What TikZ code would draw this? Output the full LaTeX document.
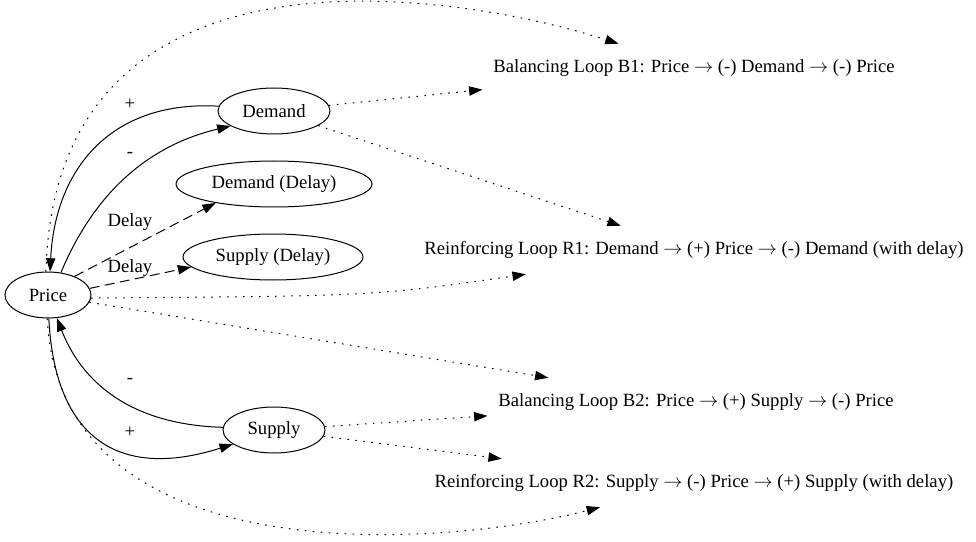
\documentclass[tikz,border=0pt]{standalone}
\usepackage{fontspec}
\setmainfont{Liberation Serif}
\usetikzlibrary{shapes.geometric,arrows.meta}
\newcommand{\myarrow}{\ensuremath{\rightarrow}}
\begin{document}
\begin{tikzpicture}[x=0.75pt,y=-0.75pt,
  every node/.style={font=\fontsize{14pt}{16pt}\selectfont},
  var/.style={draw, ellipse, line width=0.75pt, inner sep=0pt, minimum height=34.5pt},
  loopnode/.style={rectangle, inner xsep=8pt, inner ysep=0pt, minimum height=36pt},
  lbl/.style={inner sep=1pt},
  link/.style={line width=0.75pt, -{Triangle[length=10pt,width=7pt]}},
  dashlink/.style={link, dash pattern=on 7.5pt off 4pt},
  dotlink/.style={link, dash pattern=on 1.2pt off 4.8pt}]
\useasboundingbox (0,0) rectangle (976,542);

\node[var, minimum width=64.5pt] (price) at (48,295) {Price};
\node[var, minimum width=84pt] (demand) at (274,111) {Demand};
\node[var, minimum width=147pt] (dd) at (274,184) {Demand (Delay)};
\node[var, minimum width=135pt] (sd) at (273,257) {Supply (Delay)};
\node[var, minimum width=76.5pt] (supply) at (274,430) {Supply};

\node[loopnode] (b1) at (694,68) {Balancing Loop B1: Price \myarrow{} (-) Demand \myarrow{} (-) Price};
\node[loopnode] (r1) at (694,250) {Reinforcing Loop R1: Demand \myarrow{} (+) Price \myarrow{} (-) Demand (with delay)};
\node[loopnode] (b2) at (696,402) {Balancing Loop B2: Price \myarrow{} (+) Supply \myarrow{} (-) Price};
\node[loopnode] (r2) at (694,483) {Reinforcing Loop R2: Supply \myarrow{} (-) Price \myarrow{} (+) Supply (with delay)};

% causal links
\draw[link] (demand.175) .. controls (110,100) and (55,170) .. (price.85);
\draw[link] (price.60) .. controls (85,215) and (130,150) .. (demand.199);
\draw[dashlink] (price.35) -- (dd.198);
\draw[dashlink] (price.9) -- (sd.187);
\draw[link] (supply.177) .. controls (140,425) and (85,390) .. (price.291);
\draw[link] (price.272) .. controls (55,440) and (120,480) .. (supply.199);

% loop links
\draw[dotlink] (price.95) .. controls (55,-80) and (470,-4) .. (b1);
\draw[dotlink] (demand) -- (b1);
\draw[dotlink] (demand) -- (r1);
\draw[dotlink] (price.-4) .. controls (375,296) .. (r1);
\draw[dotlink] (price.-10) -- (b2);
\draw[dotlink] (supply) -- (b2);
\draw[dotlink] (supply) -- (r2);
\draw[dotlink] (price.268) .. controls (60,580) and (450,546) .. (r2);

% labels
\node[lbl] (lp1) at (130,104) {+};
\node[lbl] (lm1) at (130,155) {-};
\node[lbl] (ld1) at (130,222) {Delay};
\node[lbl] (ld2) at (130,268) {Delay};
\node[lbl] (lm2) at (130,381) {-};
\node[lbl] (lp2) at (130,432) {+};
\end{tikzpicture}
\end{document}
